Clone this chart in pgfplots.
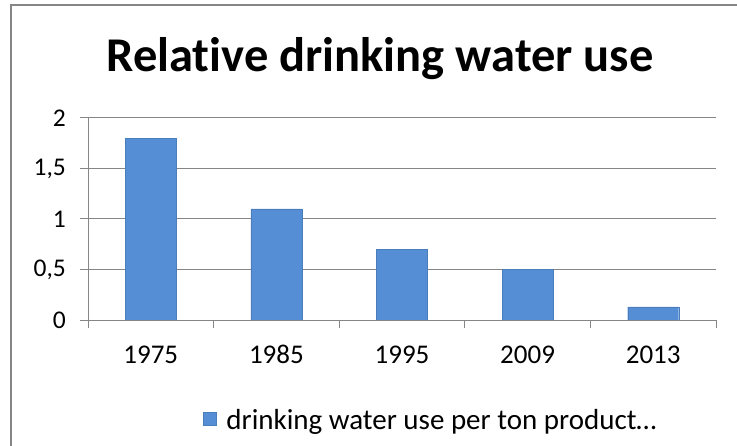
\documentclass[border=0pt]{standalone}
\usepackage{pgfplots}
\pgfplotsset{compat=1.18}
\usepackage{fontspec}
\setmainfont{Carlito}[Ligatures=NoCommon]
\definecolor{barblue}{RGB}{85,142,213}
\definecolor{barline}{RGB}{74,126,187}
\definecolor{axgray}{RGB}{134,134,134}
\begin{document}
\begin{tikzpicture}
\useasboundingbox (0,0) rectangle (737bp,446bp);
\draw[axgray, line width=1.5bp] (11bp,-20bp) -- (11bp,441bp) -- (760bp,441bp);
\begin{axis}[
  at={(88bp,126bp)}, anchor=south west,
  scale only axis, width=628bp, height=202bp,
  xmin=-0.5, xmax=4.5, ymin=0, ymax=2,
  axis x line*=bottom, axis y line*=left,
  axis line style={-, axgray, line width=1bp},
  xtick={0,1,2,3,4}, xticklabels={1975,1985,1995,2009,2013},
  minor xtick={-0.5,0.5,1.5,2.5,3.5,4.5},
  ytick={0,0.5,1,1.5,2},
  tick align=outside,
  major tick length=8bp, minor tick length=8bp,
  tick style={axgray, line width=1bp},
  major x tick style={draw=none},
  ymajorgrids, grid style={axgray, line width=1bp},
  tick label style={text=black, inner sep=0pt},
  yticklabel style={anchor=east, xshift=-14bp, font=\fontsize{25.5bp}{30bp}\selectfont},
  xticklabel style={anchor=base, yshift=-35bp, font=\fontsize{27bp}{30bp}\selectfont},
  title={Relative drinking water use},
  title style={at={(axis description cs:0.465,1.2)}, anchor=base, inner sep=0pt, font=\bfseries\fontsize{48.5bp}{52bp}\selectfont},
  legend style={at={(axis description cs:0.546,-0.495)}, anchor=center, draw=none, fill=none, font=\fontsize{29bp}{32bp}\selectfont},
  /pgf/number format/use comma,
  /pgf/number format/assume math mode=true,
]
\addplot[ybar, bar width=51bp, fill=barblue, draw=barline,
  legend image code/.code={\draw[fill=barblue, draw=barline] (0bp,-5bp) rectangle (13bp,8bp); \path[draw=none, fill=none] (13bp,0bp) -- (21bp,0bp);}]
  coordinates {(0,1.8) (1,1.1) (2,0.7) (3,0.5) (4,0.13)};
\addlegendentry{drinking water use per ton product…}
\end{axis}
\end{tikzpicture}
\end{document}
